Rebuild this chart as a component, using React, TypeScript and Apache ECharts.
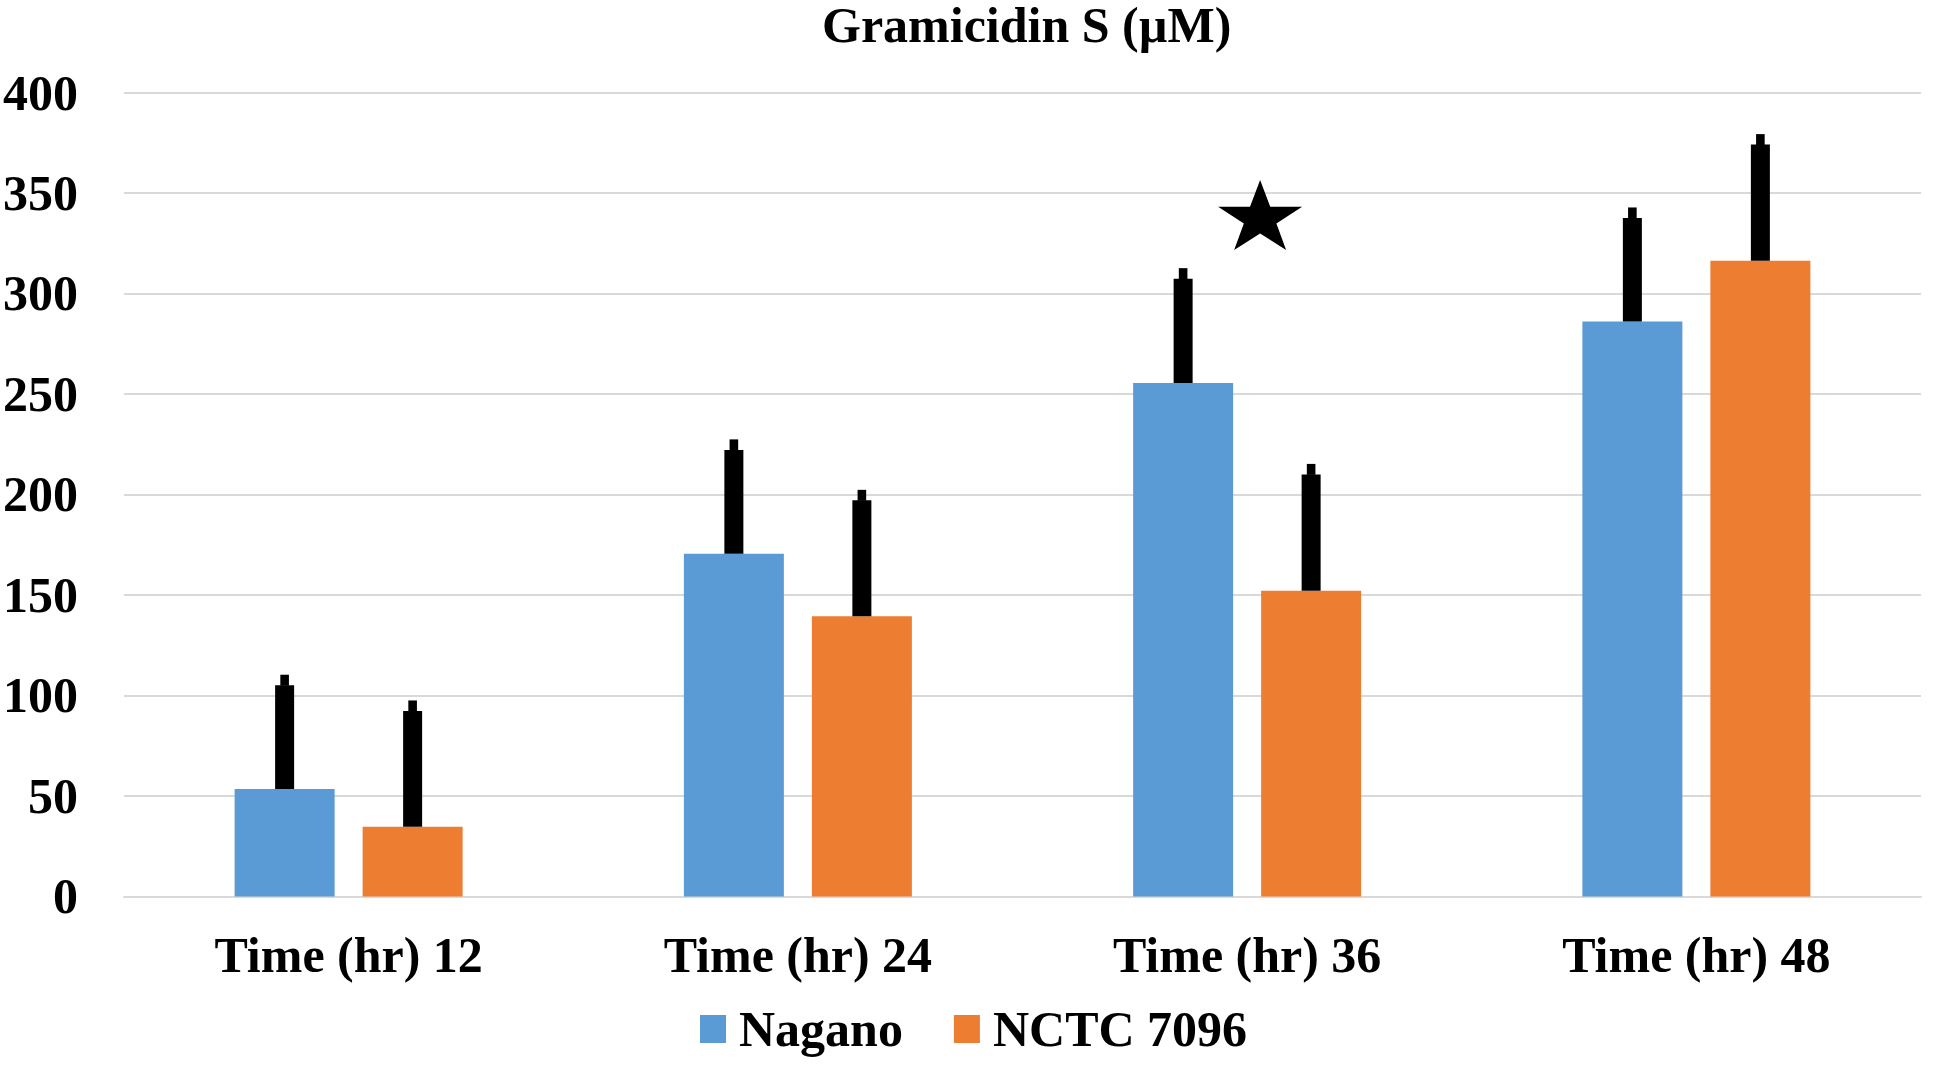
import React, { useEffect, useRef } from "react";
import * as echarts from "echarts";

const categories = ["Time (hr) 12", "Time (hr) 24", "Time (hr) 36", "Time (hr) 48"];
const naganoValues = [53.5, 170.5, 255.5, 286];
const nctcValues = [34.7, 139.4, 152.1, 316.3];
const naganoErrTop = [110.3, 227.4, 312.6, 342.8];
const nctcErrTop = [97.5, 202.3, 215.2, 379.3];
const yTicks = { min: 0, max: 400, interval: 50 };
const starPoint = [2, 339];
const seriesNames = ["Nagano", "NCTC 7096"];
const titleText = "Gramicidin S (µM)";

const BAR_WIDTH_PCT = 22.26;
const BAR_GAP_PCT = 28;
const FONT = "'Liberation Serif', 'Times New Roman', serif";
const STAR_PATH =
  "path://M50,0 L61.8,35.3 L99,35.3 L69,57.6 L80.3,93 L50,71 L19.7,93 L31,57.6 L1,35.3 L38.2,35.3 Z";

function errorSeries(name: string, values: number[], tops: number[], side: number) {
  const data = values.map((v, i) => [i, v, tops[i]]);
  return {
    type: "custom",
    name: name + " error",
    z: 5,
    encode: { x: 0, y: [1, 2] },
    data,
    renderItem: (params: any, api: any) => {
      const cat = api.value(0);
      const base = api.value(1);
      const top = api.value(2);
      const p0 = api.coord([cat, base]);
      const p1 = api.coord([cat, top]);
      const band = api.size([1, 0])[0];
      const offset = (band * (BAR_WIDTH_PCT / 100) * (1 + BAR_GAP_PCT / 100)) / 2;
      const cx = p0[0] + side * offset;
      const tipH = 10.5;
      return {
        type: "group",
        children: [
          {
            type: "rect",
            shape: { x: cx - 9.5, y: p1[1] + tipH, width: 19, height: p0[1] - p1[1] - tipH },
            style: { fill: "#000" },
          },
          {
            type: "rect",
            shape: { x: cx - 4.3, y: p1[1], width: 8.6, height: tipH + 0.5 },
            style: { fill: "#000" },
          },
        ],
      };
    },
  };
}

export default function App() {
  const ref = useRef<HTMLDivElement>(null);
  useEffect(() => {
    document.body.style.margin = "0";
    document.body.style.overflow = "hidden";
    if (!ref.current) return;
    const chart = echarts.init(ref.current, undefined, { renderer: "svg" });
    const labelStyle = {
      fontFamily: FONT,
      fontWeight: "bold" as const,
      fontSize: 50,
      color: "#000",
    };
    chart.setOption({
      animation: false,
      backgroundColor: "#fff",
      title: {
        text: titleText,
        left: 822,
        top: 4,
        padding: 0,
        textStyle: { ...labelStyle, fontSize: 50, lineHeight: 42 },
      },
      legend: {
        data: seriesNames,
        left: 700,
        top: 1004,
        padding: 0,
        itemWidth: 26,
        itemHeight: 28,
        itemGap: 51,
        icon: "rect",
        textStyle: { ...labelStyle, lineHeight: 46, padding: [0, 0, 0, 8] },
      },
      grid: {
        left: 124,
        right: 12,
        top: 92.5,
        bottom: 169.6,
        containLabel: false,
      },
      xAxis: {
        type: "category",
        data: categories,
        axisLine: { show: true, lineStyle: { color: "#D9D9D9", width: 2 } },
        axisTick: { show: false },
        axisLabel: { ...labelStyle, lineHeight: 50, margin: 34 },
      },
      yAxis: {
        type: "value",
        min: yTicks.min,
        max: yTicks.max,
        interval: yTicks.interval,
        axisLine: { show: false },
        axisTick: { show: false },
        splitLine: { lineStyle: { color: "#D9D9D9", width: 2 } },
        axisLabel: { ...labelStyle, margin: 46 },
      },
      series: [
        {
          type: "bar",
          name: seriesNames[0],
          data: naganoValues,
          barWidth: BAR_WIDTH_PCT + "%",
          barGap: BAR_GAP_PCT + "%",
          itemStyle: { color: "#5B9BD5" },
        },
        {
          type: "bar",
          name: seriesNames[1],
          data: nctcValues,
          barWidth: BAR_WIDTH_PCT + "%",
          barGap: BAR_GAP_PCT + "%",
          itemStyle: { color: "#ED7D31" },
        },
        errorSeries(seriesNames[0], naganoValues, naganoErrTop, -1),
        errorSeries(seriesNames[1], nctcValues, nctcErrTop, 1),
        {
          type: "scatter",
          name: "significance",
          data: [starPoint],
          symbol: STAR_PATH,
          symbolSize: [84, 70],
          symbolOffset: [13, 0],
          itemStyle: { color: "#000", opacity: 1 },
          z: 6,
        },
      ],
    });
    return () => chart.dispose();
  }, []);
  return <div ref={ref} style={{ width: 1933, height: 1066 }} />;
}
